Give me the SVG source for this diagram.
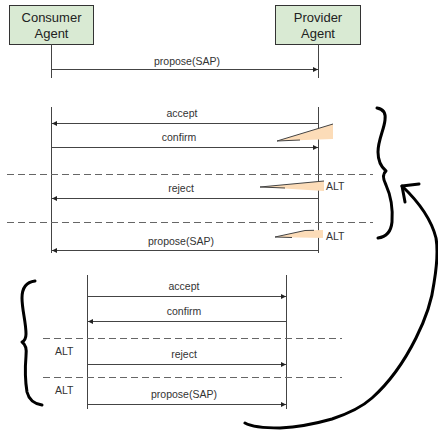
<svg xmlns="http://www.w3.org/2000/svg" width="438" height="431" viewBox="0 0 438 431">
<style>
.box{fill:#d9ead3;stroke:#333;stroke-width:1}
.hdr{font-family:"Liberation Sans",Arial,sans-serif;font-size:13px;fill:#222;text-anchor:middle}
.lbl{font-family:"Liberation Sans",Arial,sans-serif;font-size:10.5px;fill:#333;text-anchor:middle}
.alt{font-family:"Liberation Sans",Arial,sans-serif;font-size:10.5px;fill:#333}
.life{stroke:#444;stroke-width:1;fill:none}
.msg{stroke:#444;stroke-width:1;fill:none}
.dash{stroke:#666;stroke-width:1;stroke-dasharray:7,4;fill:none}
.wedge{fill:#fcdcb8;stroke:none}
.wedge-edge{stroke:#444;stroke-width:1;fill:none}
.hand{stroke:#000;stroke-width:3;fill:none;stroke-linecap:round;stroke-linejoin:round}
</style>
<defs>
<marker id="ah" viewBox="0 0 6 6" refX="6" refY="3" markerWidth="5" markerHeight="5" markerUnits="userSpaceOnUse" orient="auto">
<path d="M0,0 L6,3 L0,6 Z" fill="#222"/>
</marker>
</defs>
<rect width="438" height="431" fill="#fff"/>
<g id="consumer">
<rect class="box" x="9.5" y="5.5" width="84" height="39"/>
<text class="hdr" x="51.5" y="22">Consumer</text>
<text class="hdr" x="51.5" y="38">Agent</text>
</g>
<g id="provider">
<rect class="box" x="275.5" y="5.5" width="85" height="39"/>
<text class="hdr" x="318" y="22">Provider</text>
<text class="hdr" x="318" y="38">Agent</text>
</g>
<g id="lifelines">
<line class="life" x1="51.5" y1="44" x2="51.5" y2="78"/>
<line class="life" x1="318.5" y1="44" x2="318.5" y2="78"/>
<line class="life" x1="51.5" y1="107" x2="51.5" y2="253"/>
<line class="life" x1="318.5" y1="107" x2="318.5" y2="253"/>
<line class="life" x1="87.5" y1="275" x2="87.5" y2="409"/>
<line class="life" x1="286.5" y1="275" x2="286.5" y2="409"/>
</g>
<g id="connectors">
<line class="msg" x1="51.5" y1="69.5" x2="318" y2="69.5" marker-end="url(#ah)"/>
<line class="msg" x1="318.5" y1="123.5" x2="52" y2="123.5" marker-end="url(#ah)"/>
<line class="msg" x1="51.5" y1="147.5" x2="318" y2="147.5" marker-end="url(#ah)"/>
<line class="msg" x1="318.5" y1="198.5" x2="52" y2="198.5" marker-end="url(#ah)"/>
<line class="msg" x1="318.5" y1="250.5" x2="52" y2="250.5" marker-end="url(#ah)"/>
<line class="msg" x1="87.5" y1="296.5" x2="286" y2="296.5" marker-end="url(#ah)"/>
<line class="msg" x1="286.5" y1="321.5" x2="88" y2="321.5" marker-end="url(#ah)"/>
<line class="msg" x1="87.5" y1="364.5" x2="286" y2="364.5" marker-end="url(#ah)"/>
<line class="msg" x1="87.5" y1="404.5" x2="286" y2="404.5" marker-end="url(#ah)"/>
<line class="dash" x1="7" y1="174.5" x2="373" y2="174.5"/>
<line class="dash" x1="7" y1="222.5" x2="373" y2="222.5"/>
<line class="dash" x1="43" y1="338.5" x2="342" y2="338.5"/>
<line class="dash" x1="43" y1="377.5" x2="342" y2="377.5"/>
</g>
<g id="labels">
<text class="lbl" x="187" y="65">propose(SAP)</text>
<text class="lbl" x="182" y="117">accept</text>
<text class="lbl" x="179" y="141">confirm</text>
<text class="lbl" x="181" y="192">reject</text>
<text class="lbl" x="181" y="245">propose(SAP)</text>
<text class="alt" x="326" y="190">ALT</text>
<text class="alt" x="326" y="240">ALT</text>
<text class="lbl" x="184" y="290">accept</text>
<text class="lbl" x="184" y="315">confirm</text>
<text class="lbl" x="184" y="358">reject</text>
<text class="lbl" x="184" y="398">propose(SAP)</text>
<text class="alt" x="55" y="355">ALT</text>
<text class="alt" x="55" y="394">ALT</text>
</g>
<g id="wedges">
<polygon class="wedge" points="277,141 333,124 333,139"/>
<line class="wedge-edge" x1="277" y1="141" x2="333" y2="124"/>
<line class="wedge-edge" x1="277" y1="141" x2="300" y2="140"/>
<polygon class="wedge" points="260,187 324,181 324,191"/>
<line class="wedge-edge" x1="260" y1="187" x2="324" y2="181"/>
<line class="wedge-edge" x1="260" y1="187" x2="285" y2="188"/>
<polygon class="wedge" points="275,237 305,230.5 323,230 323,238"/>
<polyline class="wedge-edge" points="275,237 305,230.5 314,230.3"/>
<line class="wedge-edge" x1="275" y1="237" x2="292" y2="237.5"/>
</g>
<g id="annotations">
<path class="hand" d="M377,108 C383,109 386,113 385,120 C384,130 378,140 378,152 C378,160 380,166 386,171 C382,174 383,179 386,185 C391,196 393,208 392,222 C391,232 386,237 378,238"/>
<path class="hand" d="M35,281 C27,282 22,287 22,298 C22,310 26,322 26,334 C26,338 24,341 22,342 C25,344 27,348 26,356 C25,368 25,380 27,392 C29,400 35,404 42,405"/>
<path class="hand" d="M245,423 C252,427 262,428 280,428 C300,427 318,423 332,419 C350,413 362,407 372,398 C390,382 405,360 416,338 C425,320 432,300 434,283 C437,265 438,250 436,238 C432,222 422,205 402,186"/>
<path class="hand" d="M419,184 L402,186 L405,202"/>
</g>
</svg>
